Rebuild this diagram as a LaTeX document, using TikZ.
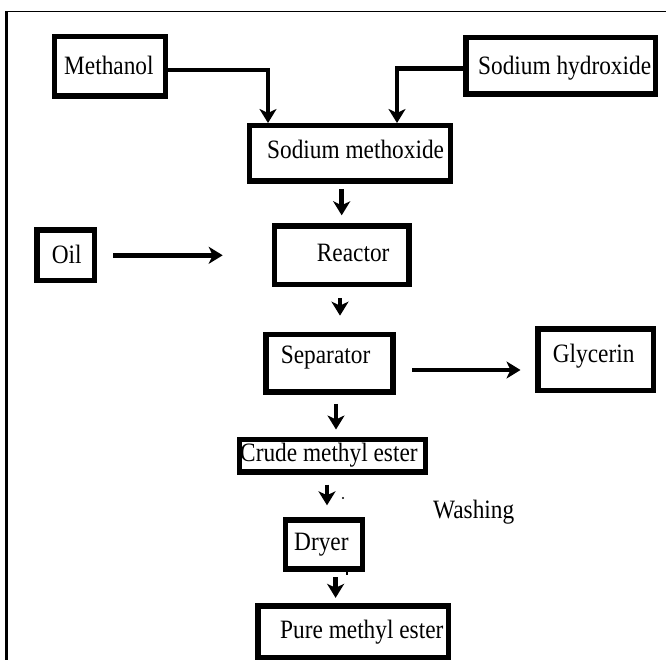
\documentclass[tikz,border=0pt]{standalone}
\usepackage{fontspec}
\setmainfont{Liberation Serif}[FakeStretch=0.88]
\usetikzlibrary{arrows.meta}

\begin{document}
\begin{tikzpicture}[x=1pt,y=-1pt,
  box/.style={draw, line width=5.5pt, inner sep=0pt},
  lbl/.style={anchor=base west, inner sep=0pt},
  arr/.style={line width=4.6pt, -{Stealth[length=14pt,width=17pt,inset=4pt]}},
  font=\fontsize{26.5}{30}\selectfont]
\useasboundingbox (0,0) rectangle (666,660);

% Frame: only top and left sides show
\draw[line width=1.2pt] (6.5,11.5) -- (666,11.5);
\draw[line width=2.2pt] (6.5,11.5) -- (6.5,660);

% Boxes
\node[box, minimum width=110.8pt, minimum height=59.5pt] (meoh) at (110,66.5) {};
\node[box, minimum width=189.5pt, minimum height=56.5pt] (naoh) at (560.5,66) {};
\node[box, minimum width=200.8pt, minimum height=55.5pt] (metox) at (349.9,153.5) {};
\node[box, minimum width=57.8pt, minimum height=50.5pt] (oil) at (65.7,255.3) {};
\node[box, minimum width=134.5pt, minimum height=58.5pt] (reactor) at (341.7,255.3) {};
\node[box, minimum width=126.9pt, minimum height=57.8pt] (sep) at (329.5,363.3) {};
\node[box, minimum width=115.5pt, minimum height=61.8pt] (gly) at (595.5,359.7) {};
\node[box, minimum width=185.8pt, minimum height=32.5pt] (crude) at (332.4,455.5) {};
\node[box, minimum width=77.3pt, minimum height=48.9pt] (dryer) at (323.9,544.5) {};
\node[box, minimum width=190.5pt, minimum height=51.2pt] (pure) at (353,631.7) {};

% Texts (not centred in their boxes)
\node[lbl] (meoh-t) at (64,74.3) {Methanol};
\node[lbl] (naoh-t) at (478,74.5) {Sodium hydroxide};
\node[lbl] (metox-t) at (267,159) {Sodium methoxide};
\node[lbl] (oil-t) at (51.7,263.3) {Oil};
\node[lbl] (reactor-t) at (316.7,261.7) {Reactor};
\node[lbl] (sep-t) at (280.7,363.3) {Separator};
\node[lbl] (gly-t) at (552.7,362.7) {Glycerin};
\node[lbl] (crude-t) at (240,461.7) {Crude methyl ester};
\node[lbl] (wash) at (433,518.3) {Washing};
\node[lbl] (dryer-t) at (294,550) {Dryer};
\node[lbl] (pure-t) at (280,638.3) {Pure methyl ester};

% Feed lines into sodium methoxide
\draw[arr] ([yshift=-3.5pt]meoh.east) -| ([xshift=-81.9pt]metox.north);
\draw[arr] ([yshift=-2.3pt]naoh.west) -| ([xshift=47.1pt]metox.north);

% Main column
\draw[arr, shorten <=5pt, shorten >=8pt] (reactor |- metox.south) -- (reactor.north);
\draw[arr, shorten <=16pt, shorten >=49pt] (oil) -- (reactor);
\draw[arr, shorten <=11pt, shorten >=16pt] ([xshift=-1.7pt]reactor.south) -- ([xshift=-1.7pt]reactor.south |- sep.north);
\draw[arr, shorten <=16.6pt, shorten >=14.5pt] ([yshift=-6.7pt]sep.east) -- ([yshift=-6.7pt]sep.east -| gly.west);
\draw[arr, shorten <=9pt, shorten >=7pt] ([xshift=6.5pt]sep.south) -- ([xshift=6.5pt]sep.south |- crude.north);
\draw[arr, shorten <=10pt, shorten >=12pt] ([xshift=3.1pt]dryer |- crude.south) -- ([xshift=3.1pt]dryer.north);
\draw[arr, shorten <=5.5pt, shorten >=5.5pt] ([xshift=11.7pt]dryer.south) -- ([xshift=11.7pt]dryer.south |- pure.north);

% small stray marks
\fill (343,498) circle (1.1pt);
\draw[line width=1.5pt] (347,571) -- (347,575);

\end{tikzpicture}
\end{document}
